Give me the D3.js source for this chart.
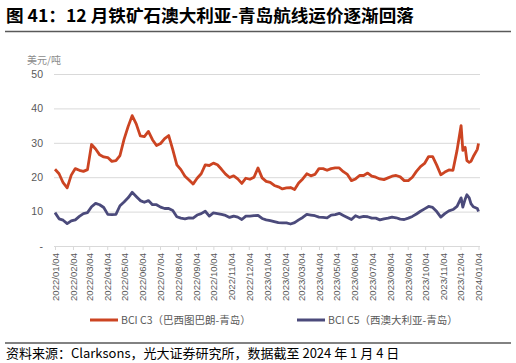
<!DOCTYPE html>
<html>
<head>
<meta charset="utf-8">
<script src="https://cdn.jsdelivr.net/npm/d3@7"></script>
<style>
  html, body { margin: 0; padding: 0; background: #fff; }
  svg { display: block; }
</style>
</head>
<body>
<svg id="chart" width="516" height="363"></svg>
<script>
const titleText = "图 41：12 月铁矿石澳大利亚-青岛航线运价逐渐回落";
const sourceText = "资料来源：Clarksons，光大证券研究所，数据截至 2024 年 1 月 4 日";
const unitText = "美元/吨";
const seriesNames = ["BCI C3（巴西图巴朗-青岛）", "BCI C5（西澳大利亚-青岛）"];
const seriesColors = ["#CC4422", "#4B4A7B"];

const yTicks = [0, 10, 20, 30, 40, 50];
const tickDates = [
  "2022-01-04","2022-02-04","2022-03-04","2022-04-04","2022-05-04","2022-06-04",
  "2022-07-04","2022-08-04","2022-09-04","2022-10-04","2022-11-04","2022-12-04",
  "2023-01-04","2023-02-04","2023-03-04","2023-04-04","2023-05-04","2023-06-04",
  "2023-07-04","2023-08-04","2023-09-04","2023-10-04","2023-11-04","2023-12-04",
  "2024-01-04"
];

const dates = [
  "2022-01-04","2022-01-11","2022-01-18","2022-01-25","2022-02-01","2022-02-08","2022-02-15","2022-02-22",
  "2022-03-01","2022-03-08","2022-03-15","2022-03-22","2022-03-29","2022-04-05","2022-04-12","2022-04-19",
  "2022-04-26","2022-05-03","2022-05-10","2022-05-17","2022-05-24","2022-05-31","2022-06-07","2022-06-14",
  "2022-06-21","2022-06-28","2022-07-05","2022-07-12","2022-07-19","2022-07-26","2022-08-02","2022-08-09",
  "2022-08-16","2022-08-23","2022-08-30","2022-09-06","2022-09-13","2022-09-20","2022-09-27","2022-10-04",
  "2022-10-11","2022-10-18","2022-10-25","2022-11-01","2022-11-08","2022-11-15","2022-11-22","2022-11-29",
  "2022-12-06","2022-12-13","2022-12-20","2022-12-27","2023-01-03","2023-01-10","2023-01-17","2023-01-24",
  "2023-01-31","2023-02-07","2023-02-14","2023-02-21","2023-02-28","2023-03-07","2023-03-14","2023-03-21",
  "2023-03-28","2023-04-04","2023-04-11","2023-04-18","2023-04-25","2023-05-02","2023-05-09","2023-05-16",
  "2023-05-23","2023-05-30","2023-06-06","2023-06-13","2023-06-20","2023-06-27","2023-07-04","2023-07-11",
  "2023-07-18","2023-07-25","2023-08-01","2023-08-08","2023-08-15","2023-08-22","2023-08-29","2023-09-05",
  "2023-09-12","2023-09-19","2023-09-26","2023-10-03","2023-10-10","2023-10-17","2023-10-24","2023-10-31",
  "2023-11-07","2023-11-14","2023-11-21","2023-11-28","2023-12-05","2023-12-08","2023-12-12","2023-12-15",
  "2023-12-19","2023-12-22","2023-12-26","2024-01-02","2024-01-04"
];

const c3 = [
  22.3,21.0,18.4,16.9,20.6,22.5,22.0,21.7,
  22.2,29.5,28.2,26.5,25.9,25.7,24.6,24.8,
  26.3,31.0,34.7,37.9,35.5,32.0,31.8,33.3,
  30.9,29.2,29.8,31.2,32.1,28.0,23.6,22.2,
  20.3,19.2,18.0,19.7,21.0,23.6,23.4,24.1,
  23.6,22.3,20.9,19.9,20.4,19.5,18.2,19.7,
  19.4,20.0,22.7,19.8,18.8,18.5,17.6,17.2,
  16.6,16.9,17.0,16.4,18.3,19.5,21.0,20.4,
  20.8,22.5,22.5,22.0,22.5,22.7,22.7,21.6,
  20.8,19.0,19.5,20.5,20.5,21.2,20.3,20.0,
  19.5,19.3,19.8,20.3,20.5,20.1,19.0,19.0,
  20.0,21.7,23.1,24.0,26.0,26.0,23.5,20.7,
  21.5,22.1,22.0,27.8,35.0,27.8,28.7,24.8,
  24.3,24.6,26.0,28.1,29.8
];

const c5 = [
  9.7,7.9,7.5,6.5,7.3,7.6,8.6,9.4,
  9.7,11.4,12.4,12.0,11.2,9.2,9.1,9.2,
  11.7,12.8,14.0,15.6,14.4,13.2,12.7,13.2,
  12.0,12.0,11.3,10.9,10.9,10.3,8.5,8.1,
  7.9,8.2,8.1,9.0,9.4,10.1,8.7,9.6,
  9.4,9.2,8.9,8.3,8.7,8.4,7.7,8.7,
  8.7,8.8,8.9,8.0,7.6,7.4,7.1,6.8,
  6.7,6.7,6.4,6.8,7.6,8.3,9.2,9.0,
  8.8,8.4,8.3,8.2,9.0,9.1,9.5,8.9,
  8.3,7.7,8.8,8.3,8.6,8.5,8.1,8.1,
  7.6,7.9,8.1,8.4,8.2,7.8,7.7,8.1,
  8.6,9.3,10.1,10.8,11.5,11.2,10.0,8.4,
  9.4,10.2,10.6,11.5,14.0,11.3,13.6,14.9,
  14.0,12.3,11.4,10.9,10.0
];

const parse = d3.timeParse("%Y-%m-%d");
const fmtTick = d3.timeFormat("%Y/%m/%d");
const series = [c3, c5].map((vals, k) => ({
  name: seriesNames[k],
  color: seriesColors[k],
  points: dates.map((d, i) => ({ date: parse(d), value: vals[i] }))
}));

const svg = d3.select("#chart");
const CJK = "'Noto Sans CJK SC', 'Noto Sans', sans-serif";
const LAT = "'Liberation Sans', Arial, 'Noto Sans CJK SC', sans-serif";

// Title
svg.append("text").attr("x", 6).attr("y", 21.5)
  .attr("font-family", CJK).attr("font-weight", "bold").attr("font-size", 17.6)
  .attr("fill", "#000").text(titleText);
svg.append("line").attr("x1", 5).attr("x2", 511).attr("y1", 31.5).attr("y2", 31.5)
  .attr("stroke", "#595959").attr("stroke-width", 1.3);

const x = d3.scaleTime().domain([parse("2022-01-04"), parse("2024-01-04")]).range([55, 478.5]);
const y = d3.scaleLinear().domain([0, 50]).range([246, 74]);

// Y axis + gridlines
const yAxis = d3.axisLeft(y).tickValues(yTicks).tickSize(-(480 - 54)).tickPadding(11)
  .tickFormat(d => d === 0 ? "-" : d);
const gy = svg.append("g").attr("transform", "translate(54,0)").call(yAxis);
gy.select(".domain").remove();
gy.selectAll(".tick line").attr("stroke", "#d9d9d9").attr("stroke-width", 1)
  .filter(d => d === 0).remove();
gy.selectAll(".tick text").attr("font-family", LAT).attr("font-size", 10.5).attr("fill", "#595959");

// Unit label
svg.append("text").attr("x", 27).attr("y", 64)
  .attr("font-family", CJK).attr("font-size", 10).attr("fill", "#8c8c8c").text(unitText);

// X axis
const xAxis = d3.axisBottom(x).tickValues(tickDates.map(parse)).tickSize(4).tickFormat(fmtTick);
const gx = svg.append("g").attr("transform", "translate(0,246)").call(xAxis);
gx.select(".domain").attr("stroke", "#d9d9d9").attr("d", "M54,0.5H480");
gx.selectAll(".tick line").attr("stroke", "#d9d9d9");
gx.selectAll(".tick text")
  .attr("font-family", LAT).attr("font-size", 9.6).attr("fill", "#595959")
  .attr("transform", "rotate(-90)")
  .attr("x", -7).attr("y", 0).attr("dy", "0.35em")
  .attr("text-anchor", "end");

// Lines
const line = d3.line().x(d => x(d.date)).y(d => y(d.value)).curve(d3.curveLinear);
svg.append("g").selectAll("path").data(series).join("path")
  .attr("fill", "none")
  .attr("stroke", d => d.color)
  .attr("stroke-width", 2.8)
  .attr("stroke-linejoin", "round")
  .attr("d", d => line(d.points));

// Legend
const legendX = [90, 297];
const lg = svg.append("g").selectAll("g").data(series).join("g")
  .attr("transform", (d, i) => `translate(${legendX[i]},320)`);
lg.append("line").attr("x1", 0).attr("x2", 28).attr("y1", 0).attr("y2", 0)
  .attr("stroke", d => d.color).attr("stroke-width", 3);
lg.append("text").attr("x", 31).attr("y", 0).attr("dy", "0.36em")
  .attr("font-family", CJK).attr("font-size", 10.5).attr("fill", "#595959")
  .text(d => d.name);

// Footer
svg.append("line").attr("x1", 5).attr("x2", 511).attr("y1", 343).attr("y2", 343)
  .attr("stroke", "#595959").attr("stroke-width", 1.3);
svg.append("text").attr("x", 6).attr("y", 357.5)
  .attr("font-family", CJK).attr("font-size", 13).attr("fill", "#000").text(sourceText);
</script>
</body>
</html>
